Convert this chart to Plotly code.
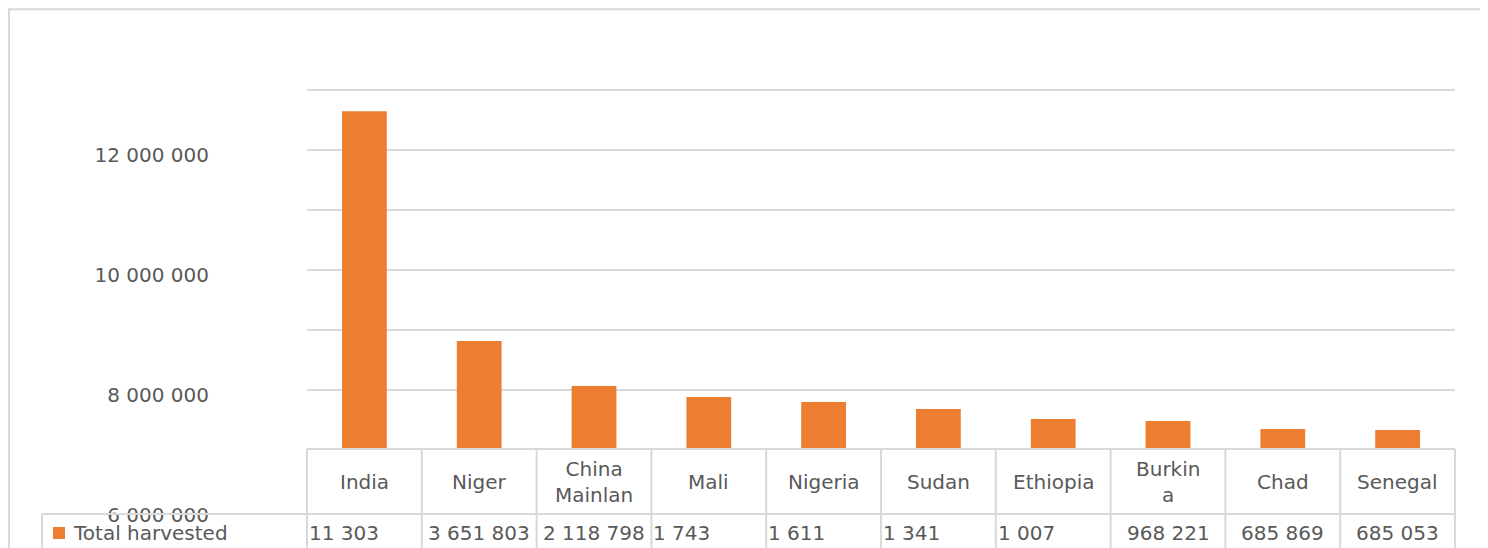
import plotly.graph_objects as go

# ---- data ----
countries = ["India", "Niger", "China Mainland", "Mali", "Nigeria",
             "Sudan", "Ethiopia", "Burkina Faso", "Chad", "Senegal"]
header_labels = ["India", "Niger", "China<br>Mainlan", "Mali", "Nigeria",
                 "Sudan", "Ethiopia", "Burkin<br>a", "Chad", "Senegal"]
bar_values = [12650000, 8817000, 8067000, 7883000, 7800000,
              7683000, 7517000, 7483000, 7350000, 7333000]
table_values = ["11 303", "3 651 803", "2 118 798", "1 743", "1 611",
                "1 341", "1 007", "968 221", "685 869", "685 053"]
truncated = [True, False, False, True, True, True, True, False, False, False]
series_name = "Total harvested"
y_min, y_max = 6000000, 13020000

# ---- layout geometry (pixels, figure coordinates; page adds 8px offset) ----
OFF = 8
W, H = 1480, 540
PX_PER_UNIT = 60 / 1000000
L, R, B = 307 - OFF, 1455 - OFF, 510 - OFF
T = B - (y_max - y_min) * PX_PER_UNIT
ORANGE = "#ED7D31"
GRID = "#d9d9d9"
TXT = "#595959"
FONT = "DejaVu Sans"
FS = 20


def px_x(p):
    """page pixel -> paper x"""
    return (p - OFF - L) / (R - L)


def px_y(p):
    """page pixel -> paper y"""
    return (B - (p - OFF)) / (B - T)


n = len(countries)
fig = go.Figure(go.Bar(
    x=list(range(n)), y=bar_values, name=series_name,
    marker=dict(color=ORANGE, line=dict(width=0)),
    hovertext=countries,
))

shapes = []
# outer frame
shapes.append(dict(type="rect", xref="paper", yref="paper",
                   x0=px_x(9), x1=px_x(1484), y0=px_y(600), y1=px_y(9),
                   line=dict(color=GRID, width=2), layer="below"))
# white data-table body over the plot area
shapes.append(dict(type="rect", xref="paper", yref="paper",
                   x0=0, x1=1, y0=px_y(600), y1=px_y(449),
                   fillcolor="white", line=dict(width=0), layer="above"))
# table horizontal lines
shapes.append(dict(type="line", xref="paper", yref="paper",
                   x0=0, x1=1, y0=px_y(449), y1=px_y(449),
                   line=dict(color=GRID, width=2), layer="above"))
shapes.append(dict(type="line", xref="paper", yref="paper",
                   x0=px_x(42), x1=1, y0=px_y(514), y1=px_y(514),
                   line=dict(color=GRID, width=2), layer="above"))
# table vertical lines
for i in range(n + 1):
    shapes.append(dict(type="line", xref="paper", yref="paper",
                       x0=i / n, x1=i / n, y0=px_y(600), y1=px_y(449),
                       line=dict(color=GRID, width=2), layer="above"))
shapes.append(dict(type="line", xref="paper", yref="paper",
                   x0=px_x(42), x1=px_x(42), y0=px_y(600), y1=px_y(514),
                   line=dict(color=GRID, width=2), layer="above"))
# legend key
shapes.append(dict(type="rect", xref="paper", yref="paper",
                   x0=px_x(53), x1=px_x(65), y0=px_y(539), y1=px_y(527),
                   fillcolor=ORANGE, line=dict(width=0), layer="above"))

annotations = []
for i, lab in enumerate(header_labels):
    annotations.append(dict(x=i, xref="x", y=px_y(482), yref="paper",
                            text=lab, showarrow=False, xanchor="center",
                            yanchor="middle", align="center",
                            font=dict(family=FONT, size=FS, color=TXT)))
for i, v in enumerate(table_values):
    if truncated[i]:
        annotations.append(dict(x=i - 0.5, xref="x", xshift=0, y=px_y(533),
                                yref="paper", text=v, showarrow=False,
                                xanchor="left", yanchor="middle",
                                font=dict(family=FONT, size=FS, color=TXT)))
    else:
        annotations.append(dict(x=i, xref="x", y=px_y(533), yref="paper",
                                text=v, showarrow=False, xanchor="center",
                                yanchor="middle",
                                font=dict(family=FONT, size=FS, color=TXT)))
annotations.append(dict(x=px_x(71), xref="paper", y=px_y(533), yref="paper",
                        text=series_name, showarrow=False, xanchor="left",
                        yanchor="middle",
                        font=dict(family=FONT, size=FS, color=TXT)))

fig.update_layout(
    width=W, height=H,
    margin=dict(l=L, r=W - R, t=T, b=H - B, pad=0),
    paper_bgcolor="white", plot_bgcolor="white",
    separators=", ",
    bargap=0.61,
    showlegend=False,
    shapes=shapes,
    annotations=annotations,
    xaxis=dict(range=[-0.5, n - 0.5], showticklabels=False, showgrid=False,
               zeroline=False, showline=False, ticks=""),
    yaxis=dict(range=[y_min, y_max], tick0=y_min, dtick=2000000,
               tickformat=",d", showgrid=True, gridcolor=GRID, gridwidth=2,
               zeroline=False, showline=False, ticks="",
               ticklabelstandoff=97, ticklabelshift=5,
               tickfont=dict(family=FONT, size=FS, color=TXT),
               minor=dict(tick0=y_min, dtick=1000000, showgrid=True,
                          gridcolor=GRID, gridwidth=2)),
)

fig.write_html("out.html")
